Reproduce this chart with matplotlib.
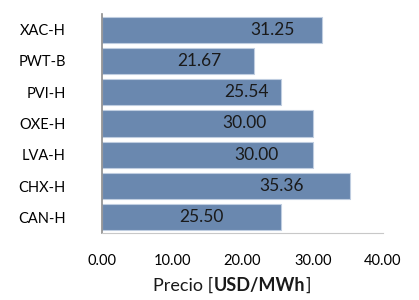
import matplotlib
matplotlib.use("Agg")
import matplotlib.pyplot as plt

# Data (bottom to top as drawn)
plants = ["CAN-H", "CHX-H", "LVA-H", "OXE-H", "PVI-H", "PWT-B", "XAC-H"]
prices = [25.50, 35.36, 30.00, 30.00, 25.54, 21.67, 31.25]
# where each value label sits (data units)
label_x = [14.2, 25.5, 22.0, 20.3, 20.5, 13.9, 24.2]

xticks = [0, 10, 20, 30, 40]

plt.rcParams['font.family'] = ['Lato', 'DejaVu Sans']

fig = plt.figure(figsize=(4.19, 3.00), dpi=100)
ax = fig.add_axes([102 / 419, 67 / 300, 281 / 419, 219 / 300])

ax.barh(range(len(plants)), prices, height=0.84, color="#6A88AF",
        edgecolor="#BFCDE0", linewidth=0.8)

for i, (v, lx) in enumerate(zip(prices, label_x)):
    ax.text(lx, i, f"{v:.2f}", ha="center", va="center", fontsize=12.5,
            color="#1a1a1a")

ax.set_xlim(0, 40)
ax.set_ylim(-0.5, len(plants) - 0.5)
ax.set_xticks(xticks)
ax.set_xticklabels([f"{t:.2f}" for t in xticks], fontsize=10.5)
ax.set_yticks(range(len(plants)))
ax.set_yticklabels(plants, fontsize=10.5)
ax.tick_params(axis="x", length=0, pad=15)
ax.tick_params(axis="y", length=0, pad=26)

for s in ["top", "right"]:
    ax.spines[s].set_visible(False)
ax.spines["left"].set_color("#8c8c8c")
ax.spines["bottom"].set_color("#c8c8c8")
ax.spines["left"].set_linewidth(1.2)

# x label with bold unit part
fig.canvas.draw()
r = fig.canvas.get_renderer()
parts = [("Precio [", "normal"), ("USD/MWh", "bold"), ("]", "normal")]
texts = []
for s, w in parts:
    texts.append(fig.text(0, 9 / 300, s, fontsize=13, fontweight=w,
                          va="baseline", color="#1a1a1a"))
widths = [t.get_window_extent(r).width for t in texts]
x0 = 232 - sum(widths) / 2
for t, w in zip(texts, widths):
    t.set_x(x0 / 419)
    x0 += w

fig.savefig("out.png", dpi=100)
